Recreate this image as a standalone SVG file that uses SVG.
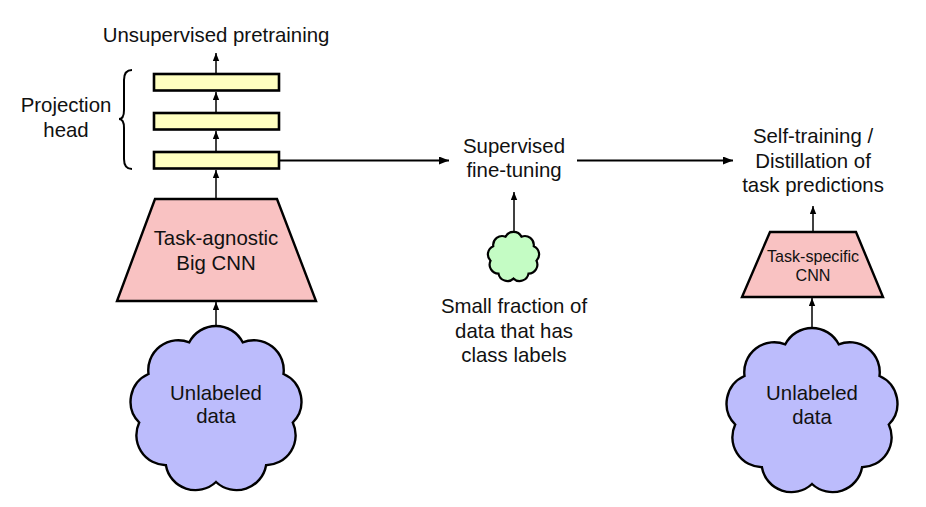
<svg xmlns="http://www.w3.org/2000/svg" width="926" height="507" viewBox="0 0 926 507">
<style>
text{font-family:"Liberation Sans",Arial,sans-serif;font-size:20.4px;fill:#111;text-anchor:middle}
.small{font-size:16.1px}
.layer{fill:#ffffc0;stroke:#000;stroke-width:2.6}
.cnn{fill:#f9c2c2;stroke:#000;stroke-width:2.4;stroke-linejoin:miter}
.cloud{fill:#bcbcfc;stroke:#000;stroke-width:2.4}
.gcloud{fill:#c4fcc4;stroke:#000;stroke-width:2.2}
.conn{fill:none;stroke:#000;stroke-width:1.5}
.hconn{fill:none;stroke:#000;stroke-width:2}
.brace{fill:none;stroke:#000;stroke-width:2}
</style>
<defs>
<marker id="ah" viewBox="0 0 10 8" refX="10" refY="4" markerWidth="8" markerHeight="7" markerUnits="userSpaceOnUse" orient="auto"><path d="M0,0 L10,4 L0,8 z" fill="#000"/></marker>
<marker id="ahl" viewBox="0 0 10 8" refX="10" refY="4" markerWidth="11" markerHeight="8" markerUnits="userSpaceOnUse" orient="auto"><path d="M0,0 L10,4 L0,8 z" fill="#000"/></marker>
<path id="cloudshape" d="M -26.7 -67.7 A 30 30 0 0 1 26.7 -67.7 A 30 30 0 0 1 67.5 -36 A 30 30 0 0 1 76.8 12.5 A 30 30 0 0 1 50.1 55.2 A 30 30 0 0 1 0 72 A 30 30 0 0 1 -50.1 55.2 A 30 30 0 0 1 -76.8 12.5 A 30 30 0 0 1 -67.5 -36 A 30 30 0 0 1 -26.7 -67.7 Z"/>
</defs>

<g id="title-unsup"><text x="216" y="42">Unsupervised pretraining</text></g>

<g id="projection-label">
<text x="66" y="112">Projection</text>
<text x="66" y="137">head</text>
<path class="brace" d="M132,70 Q124,70 124,80 L124,110 Q124,119 119,119 Q124,119 124,128 L124,159 Q124,169 132,169"/>
</g>

<g id="layer1"><rect class="layer" x="154" y="74" width="125" height="16.5"/></g>
<g id="layer2"><rect class="layer" x="154" y="113" width="125" height="16.5"/></g>
<g id="layer3"><rect class="layer" x="154" y="152" width="125" height="16.5"/></g>

<g id="big-cnn">
<polygon class="cnn" points="155,199 277,199 316,301 117,301"/>
<text x="216" y="245">Task-agnostic</text>
<text x="216" y="270">Big CNN</text>
</g>

<g id="unlabeled-left">
<use href="#cloudshape" class="cloud" transform="translate(216,410)"/>
<text x="216" y="400">Unlabeled</text>
<text x="216" y="423">data</text>
</g>

<g id="finetune">
<text x="514" y="153">Supervised</text>
<text x="514" y="177">fine-tuning</text>
</g>

<g id="labeled-cloud">
<path class="gcloud" transform="translate(513.5,257)" d="M -8 -20.3 A 9 9 0 0 1 8 -20.3 A 9 9 0 0 1 20.25 -10.8 A 9 9 0 0 1 23 3.75 A 9 9 0 0 1 15 16.6 A 9 9 0 0 1 0 21.6 A 9 9 0 0 1 -15 16.6 A 9 9 0 0 1 -23 3.75 A 9 9 0 0 1 -20.25 -10.8 A 9 9 0 0 1 -8 -20.3 Z"/>
<text x="514" y="313">Small fraction of</text>
<text x="514" y="337.5">data that has</text>
<text x="514" y="362">class labels</text>
</g>

<g id="distill">
<text x="813" y="143">Self-training /</text>
<text x="813" y="167.5">Distillation of</text>
<text x="813" y="192">task predictions</text>
</g>

<g id="small-cnn">
<polygon class="cnn" points="770,232 856,232 883,297 742,297"/>
<text class="small" x="813" y="262">Task-specific</text>
<text class="small" x="813" y="281">CNN</text>
</g>

<g id="unlabeled-right">
<use href="#cloudshape" class="cloud" transform="translate(812,412)"/>
<text x="812" y="400">Unlabeled</text>
<text x="812" y="424">data</text>
</g>

<g id="connectors">
<line class="conn" x1="216" y1="74" x2="216" y2="53" marker-end="url(#ah)"/>
<line class="conn" x1="216" y1="113" x2="216" y2="92" marker-end="url(#ah)"/>
<line class="conn" x1="216" y1="152" x2="216" y2="131" marker-end="url(#ah)"/>
<line class="conn" x1="216" y1="199" x2="216" y2="170" marker-end="url(#ah)"/>
<line class="conn" x1="216" y1="326" x2="216" y2="302" marker-end="url(#ah)"/>
<line class="hconn" x1="279" y1="160.5" x2="449" y2="160.5" marker-end="url(#ahl)"/>
<line class="conn" x1="514" y1="232" x2="514" y2="192" marker-end="url(#ah)"/>
<line class="hconn" x1="577" y1="160.5" x2="733" y2="160.5" marker-end="url(#ahl)"/>
<line class="conn" x1="813" y1="232" x2="813" y2="206" marker-end="url(#ah)"/>
<line class="conn" x1="812" y1="328" x2="812" y2="298" marker-end="url(#ah)"/>
</g>
</svg>
